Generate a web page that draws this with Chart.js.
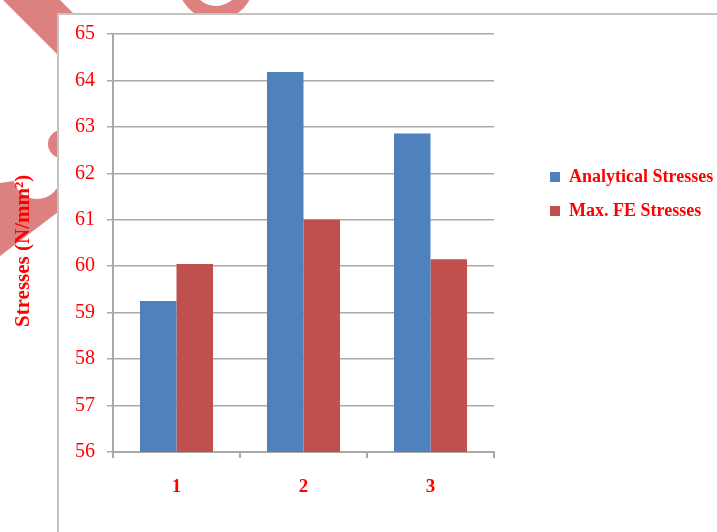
<!DOCTYPE html>
<html>
<head>
<meta charset="utf-8">
<script src="https://cdn.jsdelivr.net/npm/chart.js@4/dist/chart.umd.min.js"></script>
<style>
  html, body { margin: 0; padding: 0; background: #fff; }
  #wrap { width: 717px; height: 532px; }
</style>
</head>
<body>
<div id="wrap"><canvas id="stressChart" width="717" height="532"></canvas></div>
<script>
// chart values
var categories = ['1', '2', '3'];
var analyticalStresses = [59.25, 64.18, 62.86];
var maxFEStresses = [60.05, 61.0, 60.15];
var yTickLabels = ['56', '57', '58', '59', '60', '61', '62', '63', '64', '65'];

var serif = '"Liberation Serif", "Times New Roman", serif';
var red = '#ff0000';
var gridGray = '#a9a9a9';

// page background, faded watermark and the white chart box
var backdrop = {
  id: 'backdrop',
  beforeDraw: function (chart) {
    var c = chart.ctx;
    c.save();
    c.fillStyle = '#ffffff';
    c.fillRect(0, 0, chart.width, chart.height);

    c.fillStyle = '#dd8080';
    c.beginPath();
    c.moveTo(3, 0); c.lineTo(60, 0); c.lineTo(117, 57); c.lineTo(60, 57);
    c.closePath();
    c.fill();

    c.beginPath();
    c.arc(216, -18, 38, 0.12 * Math.PI, Math.PI);
    c.arc(216, -18, 24, Math.PI, 0.12 * Math.PI, true);
    c.closePath();
    c.fill();

    c.beginPath();
    c.arc(62, 144, 14, 0, 2 * Math.PI);
    c.fill();

    c.beginPath();
    c.moveTo(0, 183); c.lineTo(58, 175); c.lineTo(58, 212); c.lineTo(0, 256);
    c.closePath();
    c.fill();
    c.fillStyle = '#ffffff';
    c.beginPath();
    c.arc(37, 175, 24, 0, 2 * Math.PI);
    c.fill();

    // chart box
    c.fillStyle = '#ffffff';
    c.fillRect(58, 14, chart.width, chart.height);
    c.strokeStyle = '#c4c4c4';
    c.lineWidth = 2;
    c.beginPath();
    c.moveTo(58, chart.height + 2);
    c.lineTo(58, 14);
    c.lineTo(chart.width + 2, 14);
    c.stroke();
    c.restore();
  }
};

// put the legend to the right of the plot, at the reference position
var legendPlacement = {
  id: 'legendPlacement',
  afterLayout: function (chart) {
    var lg = chart.legend;
    if (!lg) return;
    lg.left = 534;
    lg.top = 152;
    lg.right = 717;
    lg.bottom = 532;
    lg.width = lg.right - lg.left;
    lg.height = lg.bottom - lg.top;
  }
};

var ctx = document.getElementById('stressChart');
new Chart(ctx, {
  type: 'bar',
  data: {
    labels: categories,
    datasets: [{
      label: 'Analytical Stresses',
      data: analyticalStresses,
      backgroundColor: '#4f81bd',
      borderWidth: 0
    }, {
      label: 'Max. FE Stresses',
      data: maxFEStresses,
      backgroundColor: '#c0504d',
      borderWidth: 0
    }]
  },
  options: {
    responsive: false,
    devicePixelRatio: 1,
    animation: false,
    layout: {
      padding: { left: 0, top: 34, right: 223, bottom: 0 }
    },
    datasets: {
      bar: { categoryPercentage: 0.575, barPercentage: 1.0 }
    },
    scales: {
      x: {
        afterFit: function (scale) { scale.height = 80; },
        grid: {
          offset: true,
          drawOnChartArea: false,
          drawTicks: true,
          tickLength: 6,
          color: gridGray,
          lineWidth: 2
        },
        border: { color: gridGray, width: 2 },
        ticks: {
          color: red,
          padding: 18,
          font: { family: serif, size: 19, weight: 'bold' }
        }
      },
      y: {
        min: 56,
        max: 65,
        afterFit: function (scale) { scale.width = 113; },
        afterBuildTicks: function (scale) {
          scale.ticks = yTickLabels.map(function (t) { return { value: Number(t) }; });
        },
        grid: {
          color: gridGray,
          lineWidth: 1.5,
          drawTicks: true,
          tickLength: 6
        },
        border: { color: gridGray, width: 2 },
        ticks: {
          color: red,
          padding: 12,
          font: { family: serif, size: 20 }
        },
        title: {
          display: true,
          text: 'Stresses (N/mm\u00b2)\u00a0\u00a0\u00a0',
          color: red,
          padding: { top: 11, bottom: 0 },
          font: { family: serif, size: 21, weight: 'bold' }
        }
      }
    },
    plugins: {
      legend: {
        position: 'chartArea',
        align: 'start',
        labels: {
          boxWidth: 10,
          boxHeight: 10,
          padding: 16,
          color: red,
          font: { family: serif, size: 18, weight: 'bold' }
        }
      },
      tooltip: { enabled: false }
    }
  },
  plugins: [backdrop, legendPlacement]
});
</script>
</body>
</html>
